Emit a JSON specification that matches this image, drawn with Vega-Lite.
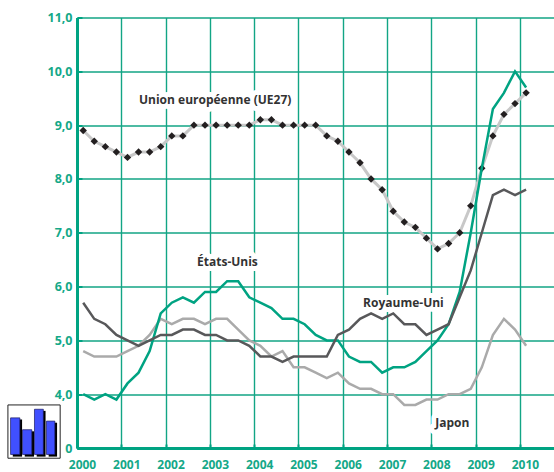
{
"$schema":"https://vega.github.io/schema/vega-lite/v6.json",
"width":477,"height":430.5,"autosize":{"type":"none"},"padding":{"left":77,"top":17.5,"right":0,"bottom":24},
"background":"white",
"config":{"view":{"stroke":null}},
"datasets":{
"series":[
{"t":2000.14,"ue":8.9,"us":4.0,"uk":5.7,"jp":4.8},
{"t":2000.39,"ue":8.7,"us":3.9,"uk":5.4,"jp":4.7},
{"t":2000.64,"ue":8.6,"us":4.0,"uk":5.3,"jp":4.7},
{"t":2000.89,"ue":8.5,"us":3.9,"uk":5.1,"jp":4.7},
{"t":2001.14,"ue":8.4,"us":4.2,"uk":5.0,"jp":4.8},
{"t":2001.39,"ue":8.5,"us":4.4,"uk":4.9,"jp":4.9},
{"t":2001.64,"ue":8.5,"us":4.8,"uk":5.0,"jp":5.1},
{"t":2001.89,"ue":8.6,"us":5.5,"uk":5.1,"jp":5.4},
{"t":2002.14,"ue":8.8,"us":5.7,"uk":5.1,"jp":5.3},
{"t":2002.39,"ue":8.8,"us":5.8,"uk":5.2,"jp":5.4},
{"t":2002.64,"ue":9.0,"us":5.7,"uk":5.2,"jp":5.4},
{"t":2002.89,"ue":9.0,"us":5.9,"uk":5.1,"jp":5.3},
{"t":2003.14,"ue":9.0,"us":5.9,"uk":5.1,"jp":5.4},
{"t":2003.39,"ue":9.0,"us":6.1,"uk":5.0,"jp":5.4},
{"t":2003.64,"ue":9.0,"us":6.1,"uk":5.0,"jp":5.2},
{"t":2003.89,"ue":9.0,"us":5.8,"uk":4.9,"jp":5.0},
{"t":2004.14,"ue":9.1,"us":5.7,"uk":4.7,"jp":4.9},
{"t":2004.39,"ue":9.1,"us":5.6,"uk":4.7,"jp":4.7},
{"t":2004.64,"ue":9.0,"us":5.4,"uk":4.6,"jp":4.8},
{"t":2004.89,"ue":9.0,"us":5.4,"uk":4.7,"jp":4.5},
{"t":2005.14,"ue":9.0,"us":5.3,"uk":4.7,"jp":4.5},
{"t":2005.39,"ue":9.0,"us":5.1,"uk":4.7,"jp":4.4},
{"t":2005.64,"ue":8.8,"us":5.0,"uk":4.7,"jp":4.3},
{"t":2005.89,"ue":8.7,"us":5.0,"uk":5.1,"jp":4.4},
{"t":2006.14,"ue":8.5,"us":4.7,"uk":5.2,"jp":4.2},
{"t":2006.39,"ue":8.3,"us":4.6,"uk":5.4,"jp":4.1},
{"t":2006.64,"ue":8.0,"us":4.6,"uk":5.5,"jp":4.1},
{"t":2006.89,"ue":7.8,"us":4.4,"uk":5.4,"jp":4.0},
{"t":2007.14,"ue":7.4,"us":4.5,"uk":5.5,"jp":4.0},
{"t":2007.39,"ue":7.2,"us":4.5,"uk":5.3,"jp":3.8},
{"t":2007.64,"ue":7.1,"us":4.6,"uk":5.3,"jp":3.8},
{"t":2007.89,"ue":6.9,"us":4.8,"uk":5.1,"jp":3.9},
{"t":2008.14,"ue":6.7,"us":5.0,"uk":5.2,"jp":3.9},
{"t":2008.39,"ue":6.8,"us":5.3,"uk":5.3,"jp":4.0},
{"t":2008.64,"ue":7.0,"us":5.9,"uk":5.8,"jp":4.0},
{"t":2008.89,"ue":7.5,"us":7.0,"uk":6.3,"jp":4.1},
{"t":2009.14,"ue":8.2,"us":8.2,"uk":7.0,"jp":4.5},
{"t":2009.39,"ue":8.8,"us":9.3,"uk":7.7,"jp":5.1},
{"t":2009.64,"ue":9.2,"us":9.6,"uk":7.8,"jp":5.4},
{"t":2009.89,"ue":9.4,"us":10.0,"uk":7.7,"jp":5.2},
{"t":2010.14,"ue":9.6,"us":9.7,"uk":7.8,"jp":4.9}
],
"labels":[
{"t":2001.4,"v":9.47,"label":"Union européenne (UE27)"},
{"t":2002.71,"v":6.45,"label":"États-Unis"},
{"t":2006.46,"v":5.7,"label":"Royaume-Uni"},
{"t":2008.09,"v":3.465,"label":"Japon"}
],
"icon":[
{"a":1998.44,"b":1999.62,"lo":2.81,"hi":3.8}
],
"bars":[
{"a":1998.5,"b":1998.71,"lo":2.88,"hi":3.56},
{"a":1998.77,"b":1998.98,"lo":2.88,"hi":3.34},
{"a":1999.04,"b":1999.24,"lo":2.88,"hi":3.72},
{"a":1999.31,"b":1999.5,"lo":2.88,"hi":3.5}
],
"shadows":[
{"a":1998.55,"b":1998.76,"lo":2.84,"hi":3.53},
{"a":1998.82,"b":1999.03,"lo":2.84,"hi":3.31},
{"a":1999.09,"b":1999.29,"lo":2.84,"hi":3.69},
{"a":1999.36,"b":1999.55,"lo":2.84,"hi":3.47}
]
},
"layer":[
{"data":{"name":"series"},"mark":{"type":"line","color":"#00a382","strokeWidth":0},
"encoding":{
"x":{"field":"t","type":"quantitative","scale":{"domain":[2000,2010.77],"nice":false,"zero":false},
"axis":{"title":null,"values":[2000,2001,2002,2003,2004,2005,2006,2007,2008,2009,2010],"format":"d","grid":true,"gridColor":"#12a585","gridWidth":1.4,"domainColor":"#00a382","domainWidth":3,"tickColor":"#00a382","tickSize":-4,"tickWidth":2,"labelColor":"#14a888","labelFont":"Open Sans","labelFontWeight":"bold","labelFontSize":12,"labelPadding":15,"labelOffset":5,"labelFlush":false,"labelOverlap":false}},
"y":{"field":"ue","type":"quantitative","scale":{"domain":[3,11],"nice":false,"zero":false},
"axis":{"title":null,"values":[3,4,5,6,7,8,9,10,11],"labelExpr":"datum.value==3?'0':replace(format(datum.value,'.1f'),'.',',')","grid":true,"gridColor":"#12a585","gridWidth":1.4,"domainColor":"#00a382","domainWidth":3,"tickColor":"#00a382","tickSize":-5,"tickWidth":2,"labelColor":"#14a888","labelFont":"Open Sans","labelFontWeight":"bold","labelFontSize":12.5,"labelPadding":10}}
}},
{"data":{"name":"labels"},"mark":{"type":"text","align":"left","baseline":"middle","font":"Open Sans","fontWeight":"bold","fontSize":12,"stroke":"white","strokeWidth":10,"strokeJoin":"round","color":"white"},
"encoding":{"x":{"field":"t","type":"quantitative"},"y":{"field":"v","type":"quantitative"},"text":{"field":"label"}}},
{"data":{"name":"series"},"mark":{"type":"line","color":"#c8c8c8","strokeWidth":3},"encoding":{"x":{"field":"t","type":"quantitative"},"y":{"field":"ue","type":"quantitative"}}},
{"data":{"name":"series"},"mark":{"type":"point","shape":"diamond","filled":true,"color":"#231f20","size":55,"opacity":1},"encoding":{"x":{"field":"t","type":"quantitative"},"y":{"field":"ue","type":"quantitative"}}},
{"data":{"name":"series"},"mark":{"type":"line","color":"#aaaaaa","strokeWidth":2.5},"encoding":{"x":{"field":"t","type":"quantitative"},"y":{"field":"jp","type":"quantitative"}}},
{"data":{"name":"series"},"mark":{"type":"line","color":"#00a382","strokeWidth":2.5},"encoding":{"x":{"field":"t","type":"quantitative"},"y":{"field":"us","type":"quantitative"}}},
{"data":{"name":"series"},"mark":{"type":"line","color":"#58585a","strokeWidth":2.5},"encoding":{"x":{"field":"t","type":"quantitative"},"y":{"field":"uk","type":"quantitative"}}},
{"data":{"name":"labels"},"mark":{"type":"text","align":"left","baseline":"middle","font":"Open Sans","fontWeight":"bold","fontSize":12,"color":"#333333"},
"encoding":{"x":{"field":"t","type":"quantitative"},"y":{"field":"v","type":"quantitative"},"text":{"field":"label"}}},
{"data":{"name":"icon"},"mark":{"type":"rect","fill":"white","stroke":"#222222","strokeWidth":1,"clip":false},"encoding":{"x":{"field":"a","type":"quantitative"},"x2":{"field":"b"},"y":{"field":"lo","type":"quantitative"},"y2":{"field":"hi"}}},
{"data":{"name":"shadows"},"mark":{"type":"rect","fill":"#000000","clip":false},"encoding":{"x":{"field":"a","type":"quantitative"},"x2":{"field":"b"},"y":{"field":"lo","type":"quantitative"},"y2":{"field":"hi"}}},
{"data":{"name":"bars"},"mark":{"type":"rect","fill":"#4050ff","stroke":"#1a1a60","strokeWidth":0.7,"clip":false},"encoding":{"x":{"field":"a","type":"quantitative"},"x2":{"field":"b"},"y":{"field":"lo","type":"quantitative"},"y2":{"field":"hi"}}}
]
}
